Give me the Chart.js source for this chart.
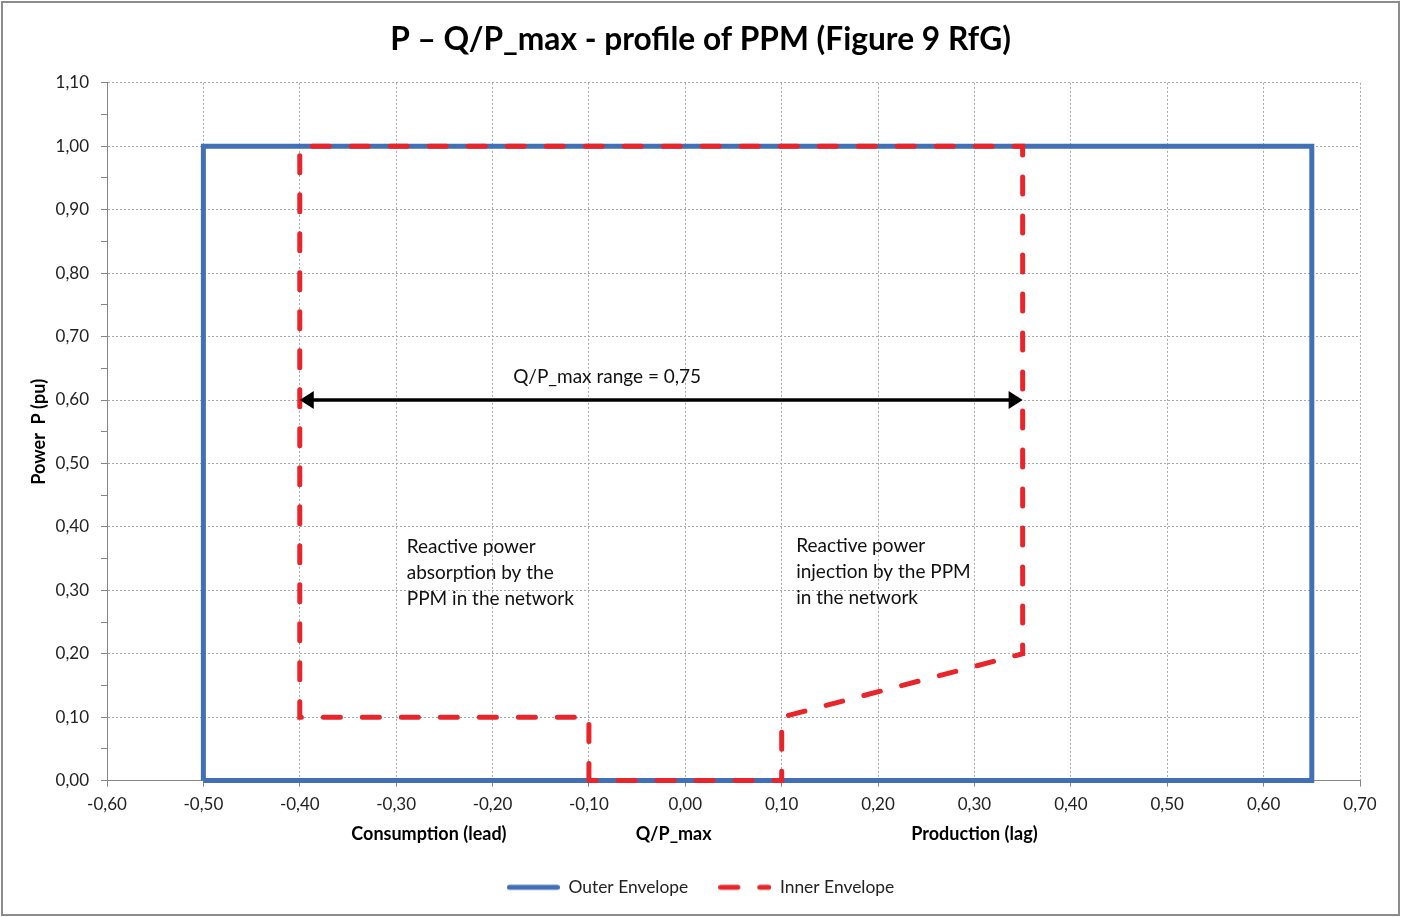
<!DOCTYPE html>
<html>
<head>
<meta charset="utf-8">
<script src="https://cdn.jsdelivr.net/npm/chart.js@4/dist/chart.umd.min.js"></script>
<style>
  html, body { margin: 0; padding: 0; background: #fff; }
  #wrap { width: 1401px; height: 917px; position: relative; }
</style>
</head>
<body>
<div id="wrap"><canvas id="pq"></canvas></div>
<script>
// envelope corners, Q/P_max vs P (pu)
const outerQ = [-0.5, -0.5, 0.65, 0.65, -0.5];
const outerP = [0, 1, 1, 0, 0];
const innerQ = [-0.1, -0.1, -0.4, -0.4, 0.35, 0.35, 0.1, 0.1, -0.1];
const innerP = [0, 0.1, 0.1, 1, 1, 0.2, 0.1, 0, 0];

const seriesNames = ['Outer Envelope', 'Inner Envelope'];

// double arrow showing the range
const rangeQ = [-0.4, 0.35];
const rangeP = 0.6;

// text notes, anchored in data units
const rangeNote = { text: ['Q/P_max range = 0,75'], q: -0.081, p: 0.636, align: 'center' };
const absorbNote = { text: ['Reactive power', 'absorption by the', 'PPM in the network'], q: -0.289, p: 0.368, align: 'left' };
const injectNote = { text: ['Reactive power', 'injection by the PPM', 'in the network'], q: 0.115, p: 0.370, align: 'left' };

// labels under the x axis
const xTitles = ['Consumption (lead)', 'Q/P_max', 'Production (lag)'];
const xTitleQ = [-0.266, -0.012, 0.30];

const FONT = 'Lato, "Open Sans", sans-serif';
const BLUE = '#4270b6';
const RED = '#e8252a';
const DASH = [17, 22];

function toPoints(xs, ys) {
  return xs.map((x, i) => ({ x: x, y: ys[i] }));
}
function comma(v) {
  return v.toFixed(2).replace('.', ',');
}
// small line sample used as legend symbol
function sample(color, dash) {
  const cv = document.createElement('canvas');
  cv.width = 53; cv.height = 8;
  const c = cv.getContext('2d');
  c.strokeStyle = color;
  c.lineWidth = 5;
  c.lineCap = 'round';
  c.setLineDash(dash);
  c.beginPath();
  c.moveTo(2.5, 4);
  c.lineTo(50.5, 4);
  c.stroke();
  return cv;
}

const extras = {
  id: 'extras',
  beforeDraw(chart) {
    const c = chart.ctx;
    c.save();
    c.fillStyle = '#fff';
    c.fillRect(0, 0, chart.width, chart.height);
    c.strokeStyle = '#8c8c8c';
    c.lineWidth = 2;
    c.strokeRect(2, 2, chart.width - 4, chart.height - 4);
    c.restore();
  },
  afterDatasetsDraw(chart) {
    const c = chart.ctx;
    const xs = chart.scales.x, ys = chart.scales.y;
    c.save();

    // arrow
    const x1 = xs.getPixelForValue(rangeQ[0]);
    const x2 = xs.getPixelForValue(rangeQ[1]);
    const y = ys.getPixelForValue(rangeP);
    const head = 14, half = 9;
    c.strokeStyle = '#000';
    c.fillStyle = '#000';
    c.lineWidth = 3.5;
    c.beginPath();
    c.moveTo(x1 + head - 2, y);
    c.lineTo(x2 - head + 2, y);
    c.stroke();
    c.beginPath();
    c.moveTo(x1, y); c.lineTo(x1 + head, y - half); c.lineTo(x1 + head, y + half);
    c.closePath(); c.fill();
    c.beginPath();
    c.moveTo(x2, y); c.lineTo(x2 - head, y - half); c.lineTo(x2 - head, y + half);
    c.closePath(); c.fill();

    // notes
    c.font = '19px ' + FONT;
    c.fillStyle = '#111';
    c.textBaseline = 'middle';
    [rangeNote, absorbNote, injectNote].forEach(n => {
      c.textAlign = n.align;
      const px = xs.getPixelForValue(n.q);
      const py = ys.getPixelForValue(n.p);
      n.text.forEach((t, i) => c.fillText(t, px, py + i * 26));
    });

    // axis sub titles
    c.font = 'bold 18px ' + FONT;
    c.fillStyle = '#000';
    c.textAlign = 'center';
    const ty = xs.bottom - 14;
    xTitles.forEach((t, i) => c.fillText(t, xs.getPixelForValue(xTitleQ[i]), ty));
    c.restore();
  }
};

new Chart(document.getElementById('pq'), {
  type: 'scatter',
  data: {
    datasets: [{
      label: seriesNames[0],
      data: toPoints(outerQ, outerP),
      showLine: true,
      borderColor: BLUE,
      backgroundColor: BLUE,
      borderWidth: 5,
      pointRadius: 0,
      pointStyle: sample(BLUE, []),
      borderJoinStyle: 'miter',
      clip: 10,
      order: 1
    }, {
      label: seriesNames[1],
      data: toPoints(innerQ, innerP),
      showLine: true,
      borderColor: RED,
      backgroundColor: RED,
      borderWidth: 5,
      borderDash: DASH,
      borderCapStyle: 'round',
      pointRadius: 0,
      pointStyle: sample(RED, DASH),
      clip: 10,
      order: 0
    }]
  },
  options: {
    responsive: true,
    maintainAspectRatio: false,
    animation: false,
    layout: { padding: { left: 20, right: 20, top: 0, bottom: 11 } },
    plugins: {
      title: {
        display: true,
        text: 'P – Q/P_max - profile of PPM (Figure 9 RfG)',
        color: '#000',
        font: { family: FONT, size: 31.7, weight: 'bold' },
        padding: { top: 21, bottom: 23.8 }
      },
      legend: {
        position: 'bottom',
        labels: {
          usePointStyle: true,
          pointStyleWidth: 53,
          color: '#222',
          font: { family: FONT, size: 17.4 },
          padding: 30,
          sort: (a, b) => a.datasetIndex - b.datasetIndex
        }
      },
      tooltip: { enabled: false }
    },
    scales: {
      x: {
        type: 'linear',
        min: -0.6,
        max: 0.7,
        ticks: {
          stepSize: 0.1,
          padding: 8,
          color: '#222',
          font: { family: FONT, size: 17 },
          callback: v => comma(v)
        },
        grid: { color: '#a8a8a8', tickColor: '#868686', tickLength: 6 },
        border: { color: '#868686', dash: [2, 2] },
        // right gap is measured from the canvas edge, layout padding included
        afterFit: s => { s.height = 68; s.paddingRight = 41; }
      },
      y: {
        type: 'linear',
        min: 0,
        max: 1.1,
        ticks: {
          stepSize: 0.05,
          padding: 12,
          color: '#222',
          font: { family: FONT, size: 17 },
          callback: v => (Math.round(v * 100) % 10 === 0 ? comma(v) : '')
        },
        grid: {
          color: ctx => (Math.round(ctx.tick.value * 100) % 10 === 0 ? '#a8a8a8' : 'rgba(0,0,0,0)'),
          tickColor: '#868686',
          tickLength: 6
        },
        border: { color: '#868686', dash: [2, 2] },
        title: {
          display: true,
          text: 'Power  P (pu)',
          color: '#000',
          font: { family: FONT, size: 18, weight: 'bold' },
          padding: { top: 8, bottom: 0 }
        },
        afterFit: s => { s.width = 87; }
      }
    }
  },
  plugins: [extras]
});
</script>
</body>
</html>
